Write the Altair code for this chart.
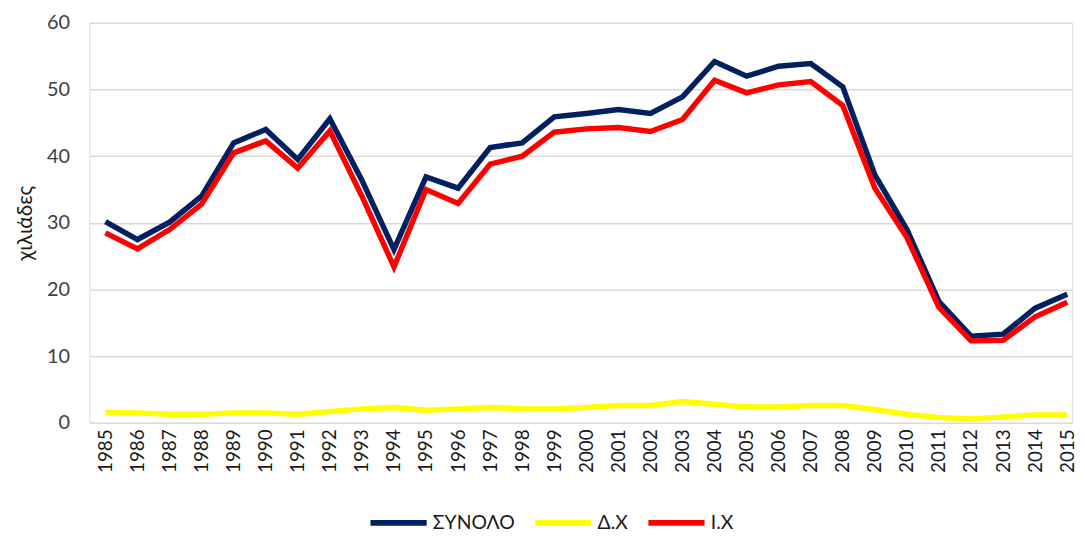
import altair as alt
import pandas as pd

years = list(range(1985, 2016))
synolo = [30.2, 27.5, 30.1, 34.0, 42.0, 44.0, 39.5, 45.6, 36.4, 26.0, 36.9, 35.2, 41.3, 42.0, 45.9, 46.4,
          47.0, 46.4, 48.9, 54.2, 52.0, 53.5, 53.9, 50.4, 37.2, 29.0, 18.2, 13.0, 13.3, 17.2, 19.3]
dx = [1.6, 1.5, 1.3, 1.3, 1.5, 1.5, 1.3, 1.7, 2.1, 2.3, 1.9, 2.1, 2.3, 2.1, 2.1, 2.3,
      2.6, 2.6, 3.2, 2.8, 2.4, 2.4, 2.6, 2.6, 2.0, 1.3, 0.8, 0.6, 0.9, 1.2, 1.2]
ix = [28.5, 26.1, 29.0, 32.8, 40.5, 42.3, 38.2, 43.8, 34.0, 23.4, 35.0, 32.9, 38.8, 40.0, 43.6, 44.1,
      44.3, 43.7, 45.5, 51.4, 49.5, 50.7, 51.2, 47.6, 35.2, 27.8, 17.3, 12.3, 12.4, 15.9, 18.1]

series_names = ["ΣΥΝΟΛΟ", "Δ.Χ", "Ι.Χ"]
series_colors = ["#002060", "#FFFF00", "#FF0000"]

rows = []
for name, vals in zip(series_names, [synolo, dx, ix]):
    for y, v in zip(years, vals):
        rows.append({"year": y, "value": v, "series": name})
df = pd.DataFrame(rows)

font = "Lato"

chart = alt.Chart(df).mark_line(strokeWidth=5.5, strokeJoin="miter", strokeCap="butt").encode(
    x=alt.X("year:Q",
            scale=alt.Scale(domain=[1984.5, 2015.15], nice=False, zero=False),
            axis=alt.Axis(values=years, format="d", labelAngle=270, title=None,
                          grid=False, ticks=False, domain=False, labelPadding=6,
                          labelFontSize=19, labelColor="#1a1a1a", labelFont=font,
                          labelAlign="right", labelBaseline="middle", labelOverlap=False)),
    y=alt.Y("value:Q",
            scale=alt.Scale(domain=[0, 60], nice=False),
            axis=alt.Axis(values=[0, 10, 20, 30, 40, 50, 60], title="χιλιάδες",
                          titleFont=font, titleFontSize=21, titleFontWeight="normal",
                          titleColor="#1a1a1a", titlePadding=11,
                          labelFont=font, labelFontSize=20, labelColor="#404040",
                          labelPadding=20, ticks=False, domain=False,
                          gridColor="#d9d9d9", gridWidth=1.5)),
    color=alt.Color("series:N",
                    scale=alt.Scale(domain=series_names, range=series_colors),
                    legend=alt.Legend(orient="none", legendX=280, legendY=472,
                                      direction="horizontal", title=None,
                                      symbolType="stroke", symbolStrokeWidth=6, symbolSize=3200,
                                      labelFont=font, labelFontSize=19.5, labelColor="#1a1a1a",
                                      columnPadding=8, labelOffset=3)),
    order=alt.Order("year:Q"),
).properties(
    width=990, height=403,
    autosize=alt.AutoSizeParams(type="none"),
    padding={"left": 82, "top": 13, "right": 5, "bottom": 109},
).configure_view(stroke=None).configure(background="white")

chart.save("out.html", embed_options={"renderer": "svg", "actions": False})
